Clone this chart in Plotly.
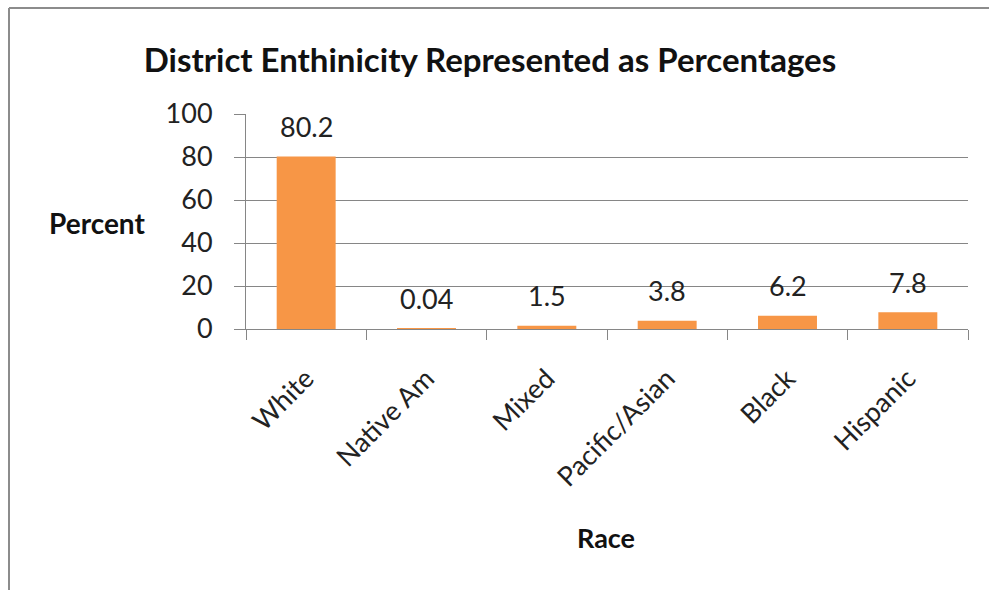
import plotly.graph_objects as go

# Category labels and percentages
races = ["White", "Native Am", "Mixed", "Pacific/Asian", "Black", "Hispanic"]
percents = [80.2, 0.04, 1.5, 3.8, 6.2, 7.8]
value_labels = ["80.2", "0.04", "1.5", "3.8", "6.2", "7.8"]
y_ticks = [0, 20, 40, 60, 80, 100]

W, H = 989, 590
ML, MR, MT, MB = 246, 21, 114, 261
PW, PH = W - ML - MR, H - MT - MB

FONT = "Lato, 'Open Sans', sans-serif"
GRID = "#868686"
BAR = "#F79646"


def px_x(x):
    return (x - ML) / PW


def px_y(y):
    return (H - MB - y) / PH


fig = go.Figure(
    go.Bar(
        x=races,
        y=percents,
        marker=dict(color=BAR, line=dict(width=0)),
        width=0.49,
        hoverinfo="x+y",
    )
)

# value labels floating above each bar
for r, v, t in zip(races, percents, value_labels):
    fig.add_annotation(
        x=r, y=v, text=t, showarrow=False, yanchor="middle", yshift=30,
        font=dict(family=FONT, size=27, color="#222222"),
    )

# chart area frame (top and left edges)
fig.add_shape(type="line", xref="paper", yref="paper",
              x0=px_x(9), x1=px_x(W + 5), y0=px_y(8), y1=px_y(8),
              line=dict(color="#8c8c8c", width=2))
fig.add_shape(type="line", xref="paper", yref="paper",
              x0=px_x(9), x1=px_x(9), y0=px_y(8), y1=px_y(H + 5),
              line=dict(color="#8c8c8c", width=2))

# axis titles placed horizontally
fig.add_annotation(xref="paper", yref="paper", x=px_x(97), y=px_y(223),
                   text="<b>Percent</b>", showarrow=False,
                   xanchor="center", yanchor="middle",
                   font=dict(family=FONT, size=28, color="#111111"))
fig.add_annotation(xref="paper", yref="paper", x=px_x(606), y=px_y(537),
                   text="<b>Race</b>", showarrow=False,
                   xanchor="center", yanchor="middle",
                   font=dict(family=FONT, size=27, color="#111111"))

fig.update_layout(
    width=W, height=H,
    margin=dict(l=ML, r=MR, t=MT, b=MB),
    paper_bgcolor="white", plot_bgcolor="white",
    showlegend=False,
    title=dict(
        text="<b>District Enthinicity Represented as Percentages</b>",
        xref="container", x=490 / W, xanchor="center",
        yref="container", y=1 - 60 / H, yanchor="middle",
        font=dict(family=FONT, size=33, color="#111111"),
    ),
    font=dict(family=FONT, color="#222222"),
)

fig.update_xaxes(
    type="category",
    showline=True, linecolor=GRID, linewidth=1,
    ticks="outside", tickson="boundaries", ticklen=10, tickcolor=GRID, tickwidth=1,
    tickangle=-45, ticklabelstandoff=22,
    tickfont=dict(family=FONT, size=27, color="#222222"),
    showgrid=False, zeroline=False,
)
fig.update_yaxes(
    range=[0, 100], tickvals=y_ticks,
    showline=True, linecolor=GRID, linewidth=1,
    ticks="outside", ticklen=11, tickcolor=GRID, tickwidth=1,
    ticklabelstandoff=16,
    tickfont=dict(family=FONT, size=27, color="#222222"),
    showgrid=True, gridcolor=GRID, gridwidth=1, zeroline=False,
)

fig.write_html("out.html")
